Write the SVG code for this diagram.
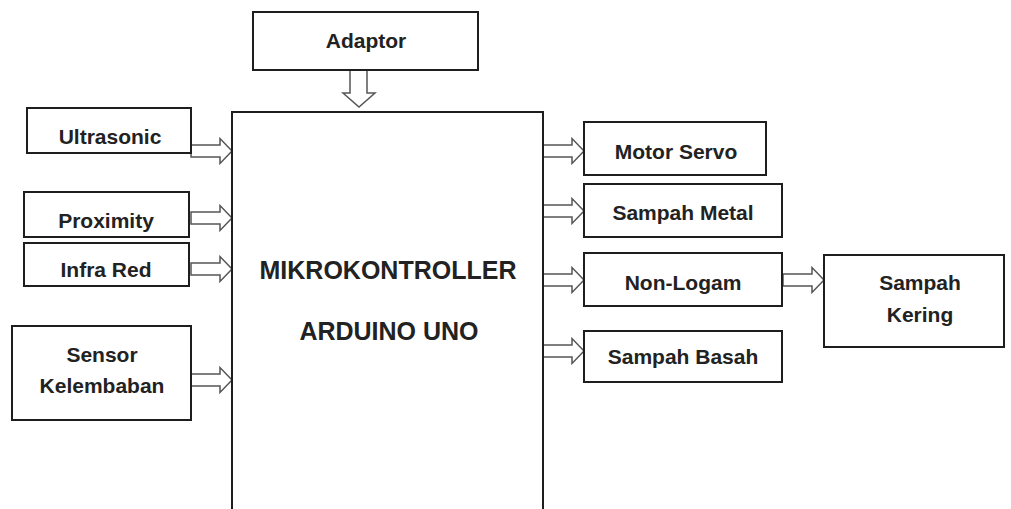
<svg xmlns="http://www.w3.org/2000/svg" width="1011" height="509" viewBox="0 0 1011 509">
<style>
.box{fill:#fff;stroke:#1e1e1e;stroke-width:2}
.arr{fill:#fff;stroke:#555;stroke-width:1.5;stroke-linejoin:miter}
.t{font-family:"Liberation Sans",Arial,sans-serif;font-weight:bold;font-size:21px;fill:#222;text-anchor:middle}
.big{font-size:25px}
</style>
<defs>
<path id="ra" d="M0,-6 H29 V-12.5 L41,0 L29,12.5 V6 H0 Z"/>
</defs>
<rect width="1011" height="509" fill="#fff"/>
<g id="connectors">
<path class="arr" d="M350,70 V93 H343 L359,107 L375,93 H367 V70 Z"/>
<use href="#ra" class="arr" x="191" y="151"/>
<use href="#ra" class="arr" x="191" y="218"/>
<use href="#ra" class="arr" x="191" y="269"/>
<use href="#ra" class="arr" x="191" y="380"/>
<use href="#ra" class="arr" x="543" y="151"/>
<use href="#ra" class="arr" x="543" y="211"/>
<use href="#ra" class="arr" x="543" y="280"/>
<use href="#ra" class="arr" x="543" y="351"/>
<use href="#ra" class="arr" x="783" y="280"/>
</g>
<g id="adaptor"><rect class="box" x="253" y="12" width="225" height="58"/><text class="t" x="366" y="48">Adaptor</text></g>
<g id="main"><rect class="box" x="232" y="112" width="311" height="420"/><text class="t big" x="388" y="279">MIKROKONTROLLER</text><text class="t big" x="389" y="340">ARDUINO UNO</text></g>
<g id="ultrasonic"><rect class="box" x="27" y="108" width="164" height="45"/><text class="t" x="110" y="144">Ultrasonic</text></g>
<g id="proximity"><rect class="box" x="24" y="192" width="165" height="45"/><text class="t" x="106" y="228">Proximity</text></g>
<g id="infrared"><rect class="box" x="24" y="243" width="165" height="43"/><text class="t" x="106" y="277">Infra Red</text></g>
<g id="sensor"><rect class="box" x="12" y="326" width="179" height="94"/><text class="t" x="102" y="362">Sensor</text><text class="t" x="102" y="393">Kelembaban</text></g>
<g id="motor"><rect class="box" x="584" y="122" width="182" height="53"/><text class="t" x="676" y="159">Motor Servo</text></g>
<g id="metal"><rect class="box" x="584" y="184" width="198" height="53"/><text class="t" x="683" y="220">Sampah Metal</text></g>
<g id="nonlogam"><rect class="box" x="584" y="253" width="198" height="53"/><text class="t" x="683" y="290">Non-Logam</text></g>
<g id="basah"><rect class="box" x="584" y="331" width="198" height="51"/><text class="t" x="683" y="364">Sampah Basah</text></g>
<g id="kering"><rect class="box" x="824" y="255" width="180" height="92"/><text class="t" x="920" y="290">Sampah</text><text class="t" x="920" y="322">Kering</text></g>
</svg>
